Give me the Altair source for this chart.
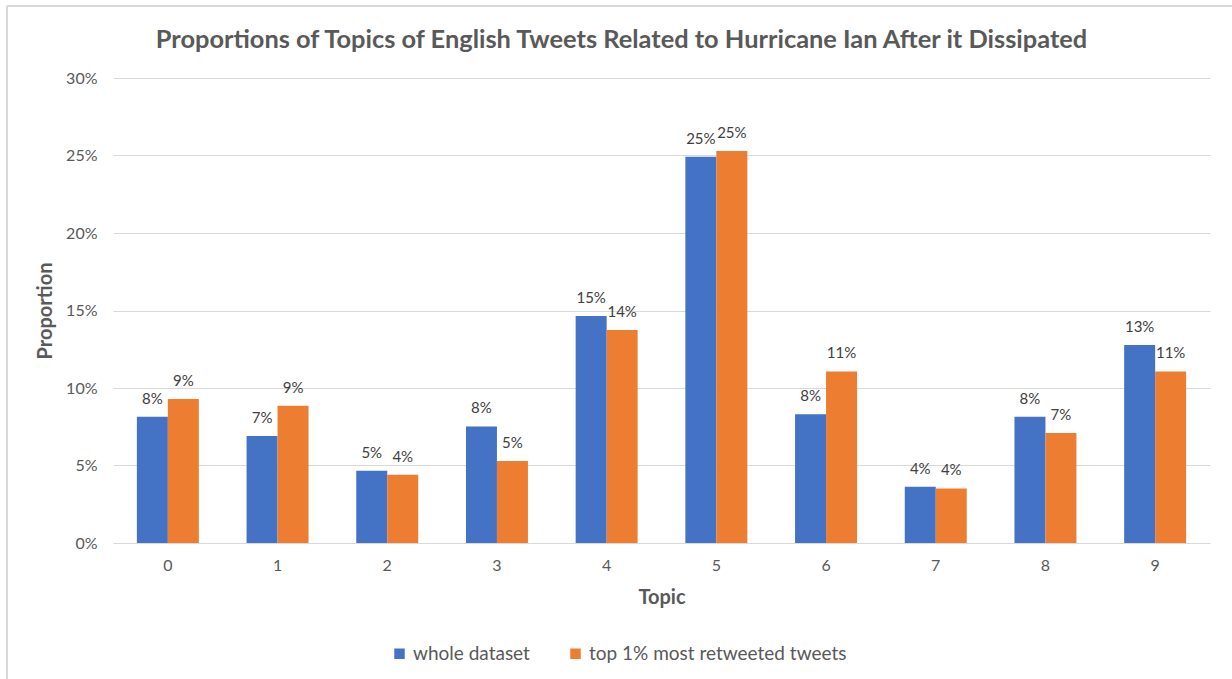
import altair as alt
import pandas as pd

# Topic ids and series
topics = ["0", "1", "2", "3", "4", "5", "6", "7", "8", "9"]
series_names = ["whole dataset", "top 1% most retweeted tweets"]

# Share of tweets per topic
whole_dataset = [0.0815, 0.069, 0.0466, 0.0752, 0.1465, 0.2492, 0.083, 0.0363, 0.0815, 0.1277]
top_retweeted = [0.0929, 0.0886, 0.0441, 0.0529, 0.1374, 0.2529, 0.1107, 0.0352, 0.071, 0.1107]

y_ticks = [0, 0.05, 0.10, 0.15, 0.20, 0.25, 0.30]

rows = []
for t, a, b in zip(topics, whole_dataset, top_retweeted):
    rows.append({"topic": t, "series": series_names[0], "proportion": a})
    rows.append({"topic": t, "series": series_names[1], "proportion": b})
df = pd.DataFrame(rows)

FONT = "Lato"
TEXT_GRAY = "#595959"
LABEL_GRAY = "#404040"
GRID = "#d9d9d9"
BLUE = "#4472C4"
ORANGE = "#ED7D31"

W, H = 1097, 465

base = alt.Chart(df).encode(
    x=alt.X(
        "topic:N",
        sort=topics,
        scale=alt.Scale(paddingInner=0.435, paddingOuter=0.2175),
        axis=alt.Axis(
            title="Topic",
            labelAngle=0,
            domain=False,
            ticks=False,
            labelFont=FONT,
            labelFontSize=16,
            labelColor=TEXT_GRAY,
            labelPadding=14,
            titleFont=FONT,
            titleFontSize=20,
            titleFontWeight="bold",
            titleColor=TEXT_GRAY,
            titlePadding=14,
        ),
    ),
    xOffset=alt.XOffset(
        "series:N",
        sort=series_names,
        scale=alt.Scale(domain=series_names, paddingInner=0, paddingOuter=0),
    ),
    y=alt.Y(
        "proportion:Q",
        scale=alt.Scale(domain=[0, 0.3], nice=False),
        axis=alt.Axis(
            title="Proportion",
            format=".0%",
            values=y_ticks,
            domain=False,
            ticks=False,
            gridColor=GRID,
            gridWidth=1.2,
            labelFont=FONT,
            labelFontSize=16,
            labelColor=TEXT_GRAY,
            labelPadding=16,
            titleFont=FONT,
            titleFontSize=20,
            titleFontWeight="bold",
            titleColor=TEXT_GRAY,
            titlePadding=10,
        ),
    ),
)

bars = base.mark_bar().encode(
    color=alt.Color(
        "series:N",
        sort=series_names,
        scale=alt.Scale(domain=series_names, range=[BLUE, ORANGE]),
        legend=alt.Legend(
            title=None,
            orient="none",
            direction="horizontal",
            legendX=277,
            legendY=566,
            symbolType="square",
            symbolSize=110,
            symbolStrokeWidth=0,
            labelFont=FONT,
            labelFontSize=19,
            labelColor=TEXT_GRAY,
            labelLimit=0,
            labelOffset=4,
            columnPadding=36,
        ),
    )
)

labels = base.mark_text(
    baseline="alphabetic",
    dy=-13,
    font=FONT,
    fontSize=15,
    color=LABEL_GRAY,
).encode(text=alt.Text("proportion:Q", format=".0%"))

# Light outer frame along the top and left edges
frame_top = alt.Chart(df).mark_rule(color=GRID, strokeWidth=1.5).encode(
    x=alt.value(-106), x2=alt.value(W + 30), y=alt.value(-72)
)
frame_left = alt.Chart(df).mark_rule(color=GRID, strokeWidth=1.5).encode(
    x=alt.value(-106), y=alt.value(-72), y2=alt.value(H + 140)
)

chart = (
    alt.layer(frame_top, frame_left, bars, labels)
    .properties(
        width=W,
        height=H,
        title=alt.Title(
            "Proportions of Topics of English Tweets Related to Hurricane Ian After it Dissipated",
            font=FONT,
            fontSize=25.4,
            fontWeight="bold",
            color=TEXT_GRAY,
            anchor="middle",
            frame="group",
            dx=-40,
            dy=74,
            offset=26,
        ),
        autosize=alt.AutoSizeParams(type="none"),
        padding={"left": 113, "top": 78, "right": 22, "bottom": 136},
    )
    .configure(background="white")
    .configure_view(strokeWidth=0, stroke="transparent")
)

chart.save("out.html", embed_options={"renderer": "svg", "actions": False})
